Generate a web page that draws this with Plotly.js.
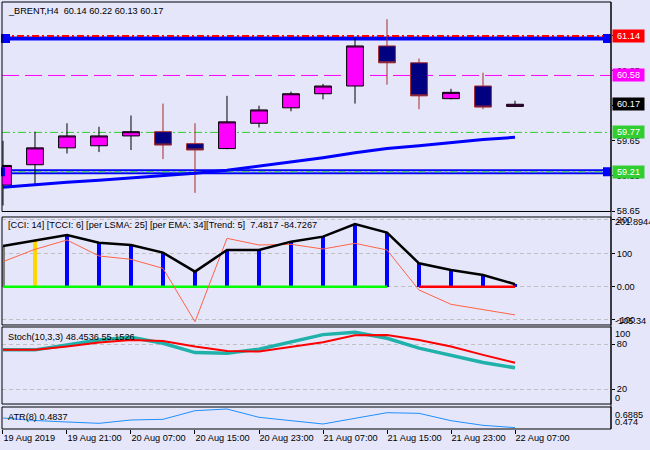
<!DOCTYPE html>
<html><head><meta charset="utf-8">
<script src="https://cdn.plot.ly/plotly-3.0.1.min.js"></script>
<style>html,body{margin:0;padding:0;background:#E6E6FA;}#chart{width:650px;height:450px;}</style>
</head><body><div id="chart"></div>
<script>
// ---------- data ----------
const symbol = '_BRENT,H4';
const bars = [0,1,2,3,4,5,6,7,8,9,10,11,12,13,14,15,16];
const opens  = [59.02,59.31,59.55,59.58,59.72,59.78,59.61,59.54,59.90,60.12,60.32,60.43,61.00,60.76,60.25,60.43,60.14];
const highs  = [59.65,59.78,59.90,59.85,60.01,60.18,59.90,60.29,60.15,60.35,60.46,61.11,61.38,60.82,60.39,60.62,60.22];
const lows   = [58.73,59.03,59.47,59.49,59.52,59.39,58.91,59.53,59.84,60.07,60.24,60.18,60.45,60.10,60.24,60.10,60.13];
const closes = [59.30,59.55,59.72,59.72,59.78,59.59,59.52,59.92,60.09,60.32,60.43,61.00,60.76,60.29,60.34,60.13,60.17];
const maValues = [58.99,59.03,59.06,59.09,59.12,59.16,59.19,59.23,59.29,59.34,59.41,59.48,59.54,59.58,59.63,59.67,59.70];

const levelRed = 61.14;
const levelBlueHigh = 61.105;
const levelMagenta = 60.58;
const levelGreen = 59.77;
const levelBlueLow = 59.21;

const tagValues = [61.14, 60.58, 60.17, 59.77, 59.21];
const tagColors = ['#FF0000','#FF00FF','#000000','#32CD32','#32CD32'];

const tcci = [122,138,155,132,125,102,45,110,110,135,150,188,162,70,50,35,7.4817];
const cci  = [75,112,140,92,82,55,-105.34,145,125,127,113,130,110,-10,-53,-70,-84.7267];
const histState = ['neutral','caution','trend','trend','trend','trend','trend','trend','trend','trend','trend','trend','trend','trend','trend','trend','trend'];
const trendDir = [1,1,1,1,1,1,1,1,1,1,1,1,1,-1,-1,-1,-1];
const cciLevels = [200,100,0,-100];
const cciLevelText = ['200','100','0.00','-100'];
const cciMax = 201.8944, cciMin = -105.34;

const stochMain   = [72.4,72.4,79,85.7,89.3,81.3,68.8,68,73.3,83.5,92.8,96,88,74.7,65.7,55.5,48.4536];
const stochSignal = [72.4,72.4,76.8,82.1,85.7,84.4,76.8,71,70.1,76,82.7,92,92.4,85.7,76.8,65.7,55.1526];
const stochLevels = [80,20];

const atr = [0.5895,0.562,0.5455,0.531,0.5675,0.575,0.67,0.6885,0.597,0.56,0.5235,0.586,0.648,0.641,0.56,0.509,0.4837];
const atrMaxLabel = 0.6885, atrMinLabel = 0.474;

const xTickBars = [0,2,4,6,8,10,12,14,16];
const xTickLabels = ['19 Aug 2019','19 Aug 21:00','20 Aug 07:00','20 Aug 15:00','20 Aug 23:00','21 Aug 07:00','21 Aug 15:00','21 Aug 23:00','22 Aug 07:00'];

// ---------- styles ----------
const BG = '#E6E6FA';
const FONT = 'Liberation Sans, Arial, sans-serif';
const FS = 9.2;
const histColorMap = {neutral:'#808080', caution:'#FFD700', trend:'#0000FF'};
const last = bars.length - 1;
const fmt = (v, d) => v.toFixed(d);

const traces = [];
traces.push({
  type:'candlestick', x:bars, open:opens, high:highs, low:lows, close:closes,
  xaxis:'x', yaxis:'y', whiskerwidth:0, hoverinfo:'skip',
  increasing:{line:{color:'#000000', width:1}, fillcolor:'#FF00FF'},
  decreasing:{line:{color:'#A52A2A', width:1}, fillcolor:'#000080'}
});
traces.push({type:'scatter', mode:'lines', x:bars, y:maValues, xaxis:'x', yaxis:'y',
  line:{color:'#0000FF', width:3}, hoverinfo:'skip'});

// CCI panel
traces.push({type:'bar', x:bars, y:tcci, xaxis:'x', yaxis:'y2', width:0.1,
  marker:{color:histState.map(s => histColorMap[s]), line:{width:0}}, hoverinfo:'skip'});
const upX = bars.filter((b,i)=>trendDir[i]>0), dnX = bars.filter((b,i)=>trendDir[i]<0);
traces.push({type:'scatter', mode:'lines', x:upX, y:upX.map(()=>0), xaxis:'x', yaxis:'y2',
  line:{color:'#00FF00', width:2.5}, hoverinfo:'skip'});
traces.push({type:'scatter', mode:'lines', x:dnX, y:dnX.map(()=>0), xaxis:'x', yaxis:'y2',
  line:{color:'#FF0000', width:2.5}, hoverinfo:'skip'});
traces.push({type:'scatter', mode:'lines', x:bars, y:cci, xaxis:'x', yaxis:'y2',
  line:{color:'#FF6347', width:1}, hoverinfo:'skip'});
traces.push({type:'scatter', mode:'lines', x:bars, y:tcci, xaxis:'x', yaxis:'y2',
  line:{color:'#000000', width:2.5}, hoverinfo:'skip'});

// Stoch
traces.push({type:'scatter', mode:'lines', x:bars, y:stochMain, xaxis:'x', yaxis:'y3',
  line:{color:'#20B2AA', width:3.5}, hoverinfo:'skip'});
traces.push({type:'scatter', mode:'lines', x:bars, y:stochSignal, xaxis:'x', yaxis:'y3',
  line:{color:'#FF0000', width:2}, hoverinfo:'skip'});

// ATR
traces.push({type:'scatter', mode:'lines', x:bars, y:atr, xaxis:'x', yaxis:'y4',
  line:{color:'#1E90FF', width:1}, hoverinfo:'skip'});

// ---------- shapes ----------
const hline = (y, color, width, dash, layer) => ({type:'line', xref:'paper', x0:0, x1:1, yref:'y', y0:y, y1:y,
  line:{color:color, width:width, dash:dash||'solid'}, layer:layer||'below'});
const endMark = (y, xa, px0, px1) => ({type:'rect', xref:'paper', xsizemode:'pixel', xanchor:xa, x0:px0, x1:px1,
  yref:'y', ysizemode:'pixel', yanchor:y, y0:-4.5, y1:4.5, fillcolor:'#0000FF', line:{width:0}, layer:'above'});

const shapes = [
  hline(levelBlueHigh, '#0000FF', 4),
  hline(levelRed, '#FF0000', 2, '7px,3px,2px,3px'),
  hline(levelMagenta, '#FF00FF', 1, '17px,6px'),
  hline(levelGreen, '#32CD32', 1, '8px,3px,2px,3px'),
  hline(levelBlueLow, '#0000FF', 5),
  hline(levelBlueLow, '#F0F0FF', 1),
  hline(levelBlueLow, '#32CD32', 1, '8px,3px,2px,3px'),
  endMark(levelBlueHigh, 0, -1, 8),
  endMark(levelBlueHigh, 1, -8, 0),
  endMark(levelBlueLow, 0, -1, 3),
  endMark(levelBlueLow, 1, -8, 0)
];
['y','y2','y3','y4'].forEach(a => shapes.push({type:'rect', xref:'paper', x0:0, x1:1, yref:a+' domain', y0:0, y1:1,
  line:{color:'#000000', width:1}, layer:'above'}));
shapes.push({type:'line', xref:'paper', x0:1, x1:1, yref:'paper', y0:0, y1:1, line:{color:'#000000', width:1}, layer:'above'});

// ---------- annotations ----------
const ann = [];
const nb = '\u00a0';
const lbl = (text, y) => ({xref:'paper', x:0, xanchor:'left', xshift:4, yref:'paper', y:y, yanchor:'middle',
  text:text, showarrow:false, font:{family:FONT, size:FS, color:'#000'}});
ann.push(lbl(symbol + nb + nb + [opens[last], highs[last], lows[last], closes[last]].map(v=>fmt(v,2)).join(' '), 0.9789));
ann.push(lbl('[CCI: 14] [TCCI: 6] [per LSMA: 25] [per EMA: 34][Trend: 5]' + nb + nb + tcci[last] + ' ' + cci[last], 0.4778));
ann.push(lbl('Stoch(10,3,3) ' + stochMain[last] + ' ' + stochSignal[last], 0.2155));
ann.push(lbl('ATR(8) ' + atr[last], 0.0288));

tagValues.forEach((v,i) => ann.push({xref:'paper', x:1, xanchor:'left', xshift:1, yref:'y', y:v, yanchor:'middle',
  text:fmt(v,2), showarrow:false, bgcolor:tagColors[i], width:29, height:10, borderpad:1,
  font:{family:FONT, size:FS, color:'#FFFFFF'}}));

const axLbl = (text, yref, y, ys) => ({xref:'paper', x:1, xanchor:'left', xshift:3, yref:yref, y:y, yanchor:'middle', yshift:ys,
  text:text, showarrow:false, font:{family:FONT, size:FS, color:'#000'}, borderpad:0});
ann.push(axLbl(String(cciMax), 'y2', cciMax, -3));
ann.push(axLbl(String(cciMin), 'y2', cciMin, 1));
ann.push(axLbl('100', 'y3', 100, -5));
ann.push(axLbl('0', 'y3', 0, 6));
ann.push(axLbl(String(atrMaxLabel), 'y4', atrMaxLabel, -6));
ann.push(axLbl(String(atrMinLabel), 'y4', atrMinLabel, 6));

const yCommon = {side:'right', anchor:'x', zeroline:false, showline:false, ticks:'outside', ticklen:3, tickcolor:'#000',
  tickfont:{family:FONT, size:FS, color:'#000'}, fixedrange:true};

const layout = {
  width:650, height:450,
  margin:{l:2, r:39, t:2, b:21, pad:0},
  paper_bgcolor:BG, plot_bgcolor:BG, showlegend:false,
  font:{family:FONT, size:FS, color:'#000'},
  boxgap:0.25, bargap:0,
  xaxis:{range:[-0.031,19], tickvals:xTickBars, ticktext:xTickLabels, ticks:'outside', ticklen:4, tickcolor:'#000',
    showgrid:false, zeroline:false, showline:false, anchor:'y4', ticklabelposition:'outside right',
    rangeslider:{visible:false}, fixedrange:true, tickfont:{family:FONT, size:FS, color:'#000'}},
  yaxis:Object.assign({}, yCommon, {domain:[0.5094,1], range:[58.645,61.625], tick0:58.65, dtick:0.5, tickformat:'.2f', showgrid:false}),
  yaxis2:Object.assign({}, yCommon, {domain:[0.2436,0.4965], range:[-115,209], tickvals:cciLevels, ticktext:cciLevelText,
    showgrid:true, gridcolor:'#C0C0C0', griddash:'4px,3px', gridwidth:1}),
  yaxis3:Object.assign({}, yCommon, {domain:[0.0585,0.2389], range:[0,103], tickvals:stochLevels,
    showgrid:true, gridcolor:'#C0C0C0', griddash:'4px,3px', gridwidth:1}),
  yaxis4:Object.assign({}, yCommon, {domain:[0,0.0515], range:[0.4685,0.7105], showticklabels:false, ticks:'', showgrid:false}),
  shapes:shapes, annotations:ann
};

Plotly.newPlot('chart', traces, layout, {displayModeBar:false, staticPlot:true});
</script></body></html>
